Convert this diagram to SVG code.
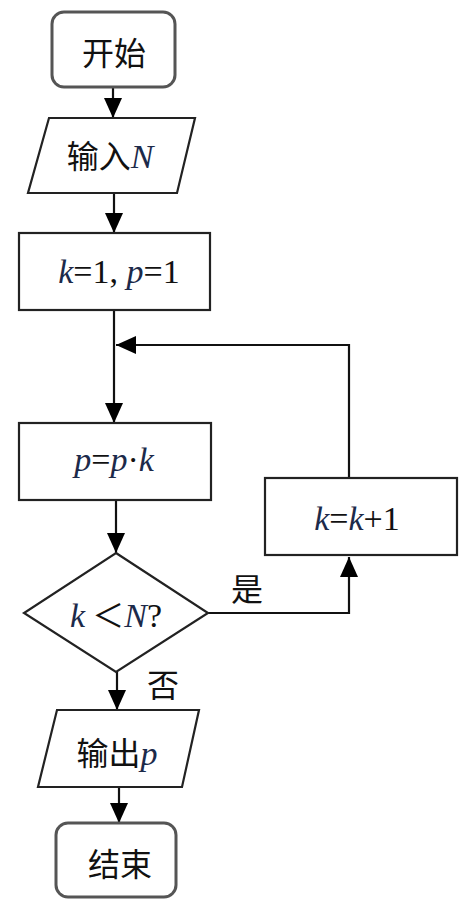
<svg xmlns="http://www.w3.org/2000/svg" width="474" height="913" viewBox="0 0 474 913">
<style>
.box{fill:#fff;stroke:#222;stroke-width:2.2}
.term{fill:#fff;stroke:#555;stroke-width:3}
.cjk{font-family:"Noto Sans CJK SC","Noto Sans",sans-serif;font-size:32px;fill:#111}
.math{font-family:"Liberation Serif",serif;font-size:34px;fill:#111}
.it{font-style:italic;fill:#1c2a4a}
.ln{fill:none;stroke:#111;stroke-width:2.2}
</style>
<defs>
<marker id="ah" markerUnits="userSpaceOnUse" markerWidth="20" markerHeight="20" viewBox="0 0 20 20" refX="20" refY="10" orient="auto">
<path d="M0,1 L20,10 L0,19 Z" fill="#000"/>
</marker>
</defs>
<g id="connectors">
<line class="ln" x1="113" y1="87" x2="113" y2="118" marker-end="url(#ah)"/>
<line class="ln" x1="114" y1="193" x2="114" y2="233" marker-end="url(#ah)"/>
<line class="ln" x1="114" y1="310" x2="114" y2="423" marker-end="url(#ah)"/>
<polyline class="ln" points="349,478 349,345 116,345" marker-end="url(#ah)"/>
<line class="ln" x1="116" y1="500" x2="116" y2="553" marker-end="url(#ah)"/>
<polyline class="ln" points="208,613 349,613 349,557" marker-end="url(#ah)"/>
<line class="ln" x1="117" y1="672" x2="117" y2="710" marker-end="url(#ah)"/>
<line class="ln" x1="119" y1="787" x2="119" y2="823" marker-end="url(#ah)"/>
<text class="cjk" x="247" y="587" text-anchor="middle" dominant-baseline="central">是</text>
<text class="cjk" x="163" y="683" text-anchor="middle" dominant-baseline="central">否</text>
</g>
<g id="start">
<rect class="term" x="52" y="12" width="123" height="75" rx="12"/>
<text class="cjk" x="114" y="51" text-anchor="middle" dominant-baseline="central">开始</text>
</g>
<g id="input">
<polygon class="box" points="49,118 195,118 177,193 28,193"/>
<text x="110" y="168" text-anchor="middle"><tspan class="cjk">输入</tspan><tspan class="math it">N</tspan></text>
</g>
<g id="init">
<rect class="box" x="19" y="233" width="191" height="77"/>
<text class="math" x="119" y="283" text-anchor="middle"><tspan class="it">k</tspan>=1, <tspan class="it">p</tspan>=1</text>
</g>
<g id="mult">
<rect class="box" x="19" y="423" width="192" height="77"/>
<text class="math" x="114" y="471" text-anchor="middle"><tspan class="it">p</tspan>=<tspan class="it">p</tspan>·<tspan class="it">k</tspan></text>
</g>
<g id="incr">
<rect class="box" x="265" y="478" width="192" height="77"/>
<text class="math" x="357" y="530" text-anchor="middle"><tspan class="it">k</tspan>=<tspan class="it">k</tspan>+1</text>
</g>
<g id="cond">
<polygon class="box" points="116,553 208,613 116,672 24,613" stroke="#444"/>
<text x="116" y="627" text-anchor="middle"><tspan class="math it">k</tspan><tspan class="cjk" font-size="26"> ＜</tspan><tspan class="math it">N</tspan><tspan class="math">?</tspan></text>
</g>
<g id="output">
<polygon class="box" points="57,710 199,710 182,787 38,787"/>
<text x="117" y="765" text-anchor="middle"><tspan class="cjk">输出</tspan><tspan class="math it">p</tspan></text>
</g>
<g id="end">
<rect class="term" x="56" y="823" width="120" height="74" rx="12"/>
<text class="cjk" x="120" y="862" text-anchor="middle" dominant-baseline="central">结束</text>
</g>
</svg>
